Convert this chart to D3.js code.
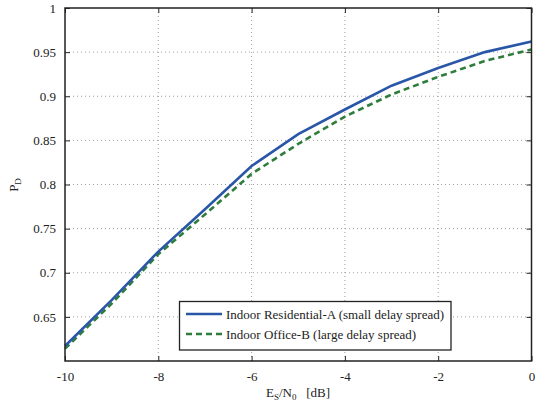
<!DOCTYPE html>
<html><head><meta charset="utf-8">
<script src="https://cdn.jsdelivr.net/npm/d3@7"></script>
<style>body{margin:0;background:#fff} text{font-family:"Liberation Serif","Times New Roman",serif !important;}</style>
</head><body>
<script>
const esn0 = [-10,-9,-8,-7,-6,-5,-4,-3,-2,-1,0];
const residentialA = [0.617,0.669,0.724,0.772,0.821,0.857,0.885,0.912,0.932,0.950,0.962];
const officeB = [0.614,0.665,0.721,0.766,0.812,0.846,0.877,0.902,0.922,0.940,0.953];
const xTicks = [-10,-8,-6,-4,-2,0];
const yTicks = [0.65,0.7,0.75,0.8,0.85,0.9,0.95,1];
const seriesNames = ["Indoor Residential-A (small delay spread)","Indoor Office-B (large delay spread)"];

const W=535,H=407, L=65, R=531.5, T=8, B=361, FS=13;
const svg=d3.select("body").append("svg").attr("width",W).attr("height",H);
const x=d3.scaleLinear().domain([-10,0]).range([L,R]);
const y=d3.scaleLinear().domain([0.6,1]).range([B,T]);

// grid
const g=svg.append("g");
g.selectAll(".gx").data(xTicks.slice(1,-1)).enter().append("line")
 .attr("x1",d=>x(d)).attr("x2",d=>x(d)).attr("y1",T).attr("y2",B)
 .attr("stroke","#888").attr("stroke-width",0.8).attr("stroke-dasharray","1,3");
g.selectAll(".gy").data(yTicks.slice(0,-1)).enter().append("line")
 .attr("y1",d=>y(d)).attr("y2",d=>y(d)).attr("x1",L).attr("x2",R)
 .attr("stroke","#888").attr("stroke-width",0.8).attr("stroke-dasharray","1,3");

// axes
const fmtX=d=>String(d).replace("\u2212","-");
const xa=svg.append("g").attr("transform",`translate(0,${B})`)
 .call(d3.axisBottom(x).tickValues(xTicks).tickSize(-5).tickPadding(11).tickFormat(fmtX));
const xt=svg.append("g").attr("transform",`translate(0,${T})`)
 .call(d3.axisTop(x).tickValues(xTicks).tickSize(-5).tickFormat(""));
const ya=svg.append("g").attr("transform",`translate(${L},0)`)
 .call(d3.axisLeft(y).tickValues(yTicks).tickSize(-5).tickPadding(9).tickFormat(d=>String(+d.toFixed(2))));
const yr=svg.append("g").attr("transform",`translate(${R},0)`)
 .call(d3.axisRight(y).tickValues(yTicks).tickSize(-5).tickFormat(""));
[xa,xt,ya,yr].forEach(a=>{a.attr("font-family",null).attr("font-size",null);
 a.select(".domain").remove();a.selectAll("line").attr("stroke","#222");
 a.selectAll("text").attr("font-size",FS).attr("fill","#222");});

// plot data
const line=d3.line().x((d,i)=>x(esn0[i])).y(d=>y(d));
svg.append("path").datum(officeB).attr("d",line).attr("fill","none")
 .attr("stroke","#2e7d3a").attr("stroke-width",2.6).attr("stroke-dasharray","6,4");
svg.append("path").datum(residentialA).attr("d",line).attr("fill","none")
 .attr("stroke","#2a56a8").attr("stroke-width",2.6);

// frame
svg.append("rect").attr("x",L).attr("y",T).attr("width",R-L).attr("height",B-T)
 .attr("fill","none").attr("stroke","#222").attr("stroke-width",1.5);

// legend
const lg=svg.append("g");
lg.append("rect").attr("x",179.5).attr("y",301.5).attr("width",271.5).attr("height",48.5)
 .attr("fill","#fff").attr("stroke","#222").attr("stroke-width",1.3);
const cols=["#2a56a8","#2e7d3a"], dashes=[null,"6,4"];
seriesNames.forEach((n,i)=>{
  const yy=314+i*20;
  lg.append("line").attr("x1",186).attr("x2",222).attr("y1",yy).attr("y2",yy)
   .attr("stroke",cols[i]).attr("stroke-width",2.6).attr("stroke-dasharray",dashes[i]);
  lg.append("text").attr("x",226).attr("y",yy+4.5).attr("font-size",FS).attr("fill","#222").text(n);
});

// axis labels
const xl=svg.append("text").attr("x",298).attr("y",397).attr("text-anchor","middle")
 .attr("font-size",FS).attr("fill","#222");
xl.append("tspan").text("E");
xl.append("tspan").attr("font-size",9).attr("dy",3).text("S");
xl.append("tspan").attr("dy",-3).text("/N");
xl.append("tspan").attr("font-size",9).attr("dy",3).text("0");
xl.append("tspan").attr("dy",-3).text("\u00a0\u00a0\u00a0[dB]");

const yl=svg.append("text").attr("transform","translate(18,185) rotate(-90)").attr("text-anchor","middle")
 .attr("font-size",FS).attr("fill","#222");
yl.append("tspan").text("P");
yl.append("tspan").attr("font-size",9).attr("dy",3).text("D");
</script>
</body></html>
